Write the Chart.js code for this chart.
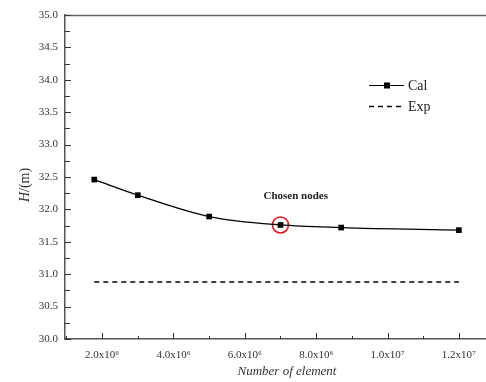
<!DOCTYPE html>
<html>
<head>
<meta charset="utf-8">
<script src="https://cdn.jsdelivr.net/npm/chart.js@4/dist/chart.umd.min.js"></script>
<style>
  html, body { margin: 0; padding: 0; background: #fff; overflow: hidden; }
  canvas { display: block; }
</style>
</head>
<body>
<canvas id="c" width="486" height="382"></canvas>
<script>
// Mesh independence study: head H versus number of elements
const elementCounts = [1.78e6, 3.0e6, 5.0e6, 7.0e6, 8.7e6, 1.2e7];
const calHead = [32.46, 32.22, 31.89, 31.76, 31.72, 31.68];
const expHead = [30.88, 30.88, 30.88, 30.88, 30.88, 30.88];
const chosenCount = [7.0e6];
const chosenHead = [31.76];

const xTickValues = [2e6, 4e6, 6e6, 8e6, 1e7, 1.2e7];
const xTickLabels = ['2.0x10\u2076', '4.0x10\u2076', '6.0x10\u2076', '8.0x10\u2076', '1.0x10\u2077', '1.2x10\u2077'];
const yTickValues = [30, 30.5, 31, 31.5, 32, 32.5, 33, 33.5, 34, 34.5, 35];
const xMinorValues = [1e6, 3e6, 5e6, 7e6, 9e6, 1.1e7];
const yMinorValues = [30.25, 30.75, 31.25, 31.75, 32.25, 32.75, 33.25, 33.75, 34.25, 34.75];

const SERIF = '"Liberation Serif", "DejaVu Serif", serif';
const AXIS_COLOR = '#555';

const pts = (xs, ys) => xs.map((x, i) => ({ x: x, y: ys[i] }));

// Frame, inward ticks, axis titles, legend and annotation
const decorations = {
  id: 'decorations',
  afterDraw(chart) {
    const ctx = chart.ctx;
    const a = chart.chartArea;
    const xs = chart.scales.x, ys = chart.scales.y;
    ctx.save();

    // top frame line
    ctx.strokeStyle = '#666';
    ctx.lineWidth = 1.5;
    ctx.beginPath();
    ctx.moveTo(a.left, a.top + 0.5);
    ctx.lineTo(a.right, a.top + 0.5);
    ctx.stroke();

    // inward tick marks
    ctx.strokeStyle = '#333';
    ctx.lineWidth = 1;
    ctx.beginPath();
    yTickValues.forEach(v => {
      const p = Math.round(ys.getPixelForValue(v)) + 0.5;
      ctx.moveTo(a.left, p); ctx.lineTo(a.left + 6, p);
    });
    yMinorValues.forEach(v => {
      const p = Math.round(ys.getPixelForValue(v)) + 0.5;
      ctx.moveTo(a.left, p); ctx.lineTo(a.left + 5, p);
    });
    xTickValues.forEach(v => {
      const p = Math.round(xs.getPixelForValue(v)) + 0.5;
      ctx.moveTo(p, a.bottom); ctx.lineTo(p, a.bottom - 6);
    });
    xMinorValues.forEach(v => {
      const p = Math.round(xs.getPixelForValue(v)) + 0.5;
      ctx.moveTo(p, a.bottom); ctx.lineTo(p, a.bottom - 3);
    });
    ctx.stroke();

    // y axis title: italic H followed by /(m)
    ctx.save();
    ctx.translate(25, (a.top + a.bottom) / 2 + 8);
    ctx.rotate(-Math.PI / 2);
    ctx.fillStyle = '#333';
    ctx.textBaseline = 'middle';
    ctx.font = 'italic 14px ' + SERIF;
    const hW = ctx.measureText('H').width;
    ctx.font = '14px ' + SERIF;
    const restW = ctx.measureText('/(m)').width;
    const start = -(hW + restW) / 2;
    ctx.textAlign = 'left';
    ctx.font = 'italic 14px ' + SERIF;
    ctx.fillText('H', start, 0);
    ctx.font = '14px ' + SERIF;
    ctx.fillText('/(m)', start + hW, 0);
    ctx.restore();

    // x axis title
    ctx.fillStyle = '#333';
    ctx.font = 'italic 13px ' + SERIF;
    ctx.textAlign = 'center';
    ctx.textBaseline = 'middle';
    ctx.fillText('Number of element', 287, 372);

    // legend
    ctx.strokeStyle = '#000';
    ctx.lineWidth = 1.2;
    ctx.setLineDash([]);
    ctx.beginPath();
    ctx.moveTo(369, 85.5); ctx.lineTo(404, 85.5);
    ctx.stroke();
    ctx.fillStyle = '#000';
    ctx.fillRect(384, 82.5, 6, 6);
    ctx.lineWidth = 1.6;
    ctx.setLineDash([5, 4]);
    ctx.beginPath();
    ctx.moveTo(369, 106.5); ctx.lineTo(401, 106.5);
    ctx.stroke();
    ctx.setLineDash([]);
    ctx.fillStyle = '#222';
    ctx.font = '14px ' + SERIF;
    ctx.textAlign = 'left';
    ctx.textBaseline = 'middle';
    ctx.fillText('Cal', 408, 86);
    ctx.fillText('Exp', 408, 107);

    // annotation above the chosen mesh
    const cx = xs.getPixelForValue(chosenCount[0]);
    const cy = ys.getPixelForValue(chosenHead[0]);
    ctx.font = 'bold 11px ' + SERIF;
    ctx.fillStyle = '#222';
    ctx.textAlign = 'left';
    ctx.textBaseline = 'middle';
    ctx.fillText('Chosen nodes', cx - 17, cy - 29);

    ctx.restore();
  }
};

new Chart(document.getElementById('c'), {
  type: 'line',
  data: {
    datasets: [
      {
        label: 'Cal',
        data: pts(elementCounts, calHead),
        borderColor: '#000',
        backgroundColor: '#000',
        borderWidth: 1.3,
        cubicInterpolationMode: 'monotone',
        pointStyle: 'rect',
        pointRadius: 4,
        pointBorderWidth: 0,
        fill: false
      },
      {
        label: 'Exp',
        data: pts(elementCounts, expHead),
        borderColor: '#000',
        borderWidth: 1.6,
        borderDash: [5, 4],
        pointRadius: 0,
        fill: false
      },
      {
        label: 'Chosen',
        data: pts(chosenCount, chosenHead),
        showLine: false,
        pointStyle: 'circle',
        pointRadius: 8,
        pointBorderWidth: 1.6,
        borderColor: '#e8141c',
        backgroundColor: 'rgba(0,0,0,0)'
      }
    ]
  },
  options: {
    responsive: false,
    animation: false,
    devicePixelRatio: 1,
    layout: { autoPadding: false, padding: { top: 15, right: 0, left: 0, bottom: 0 } },
    plugins: { legend: { display: false }, tooltip: { enabled: false } },
    scales: {
      x: {
        type: 'linear',
        min: 0.96e6,
        max: 1.276e7,
        afterBuildTicks: s => { s.ticks = xTickValues.map(v => ({ value: v })); },
        afterFit: s => { s.height = 43; },
        ticks: {
          autoSkip: false,
          maxRotation: 0,
          padding: 10,
          color: '#333',
          font: { family: SERIF, size: 11 },
          callback: (v) => { const i = xTickValues.indexOf(v); return i >= 0 ? xTickLabels[i] : ''; }
        },
        grid: { drawOnChartArea: false, drawTicks: false },
        border: { display: true, color: AXIS_COLOR, width: 1.5 }
      },
      y: {
        min: 30,
        max: 35,
        afterBuildTicks: s => { s.ticks = yTickValues.map(v => ({ value: v })); },
        afterFit: s => { s.width = 65; },
        ticks: {
          padding: 7,
          color: '#333',
          font: { family: SERIF, size: 11 },
          callback: v => Number(v).toFixed(1)
        },
        grid: { drawOnChartArea: false, drawTicks: false },
        border: { display: true, color: AXIS_COLOR, width: 1.5 }
      }
    }
  },
  plugins: [decorations]
});
</script>
</body>
</html>
